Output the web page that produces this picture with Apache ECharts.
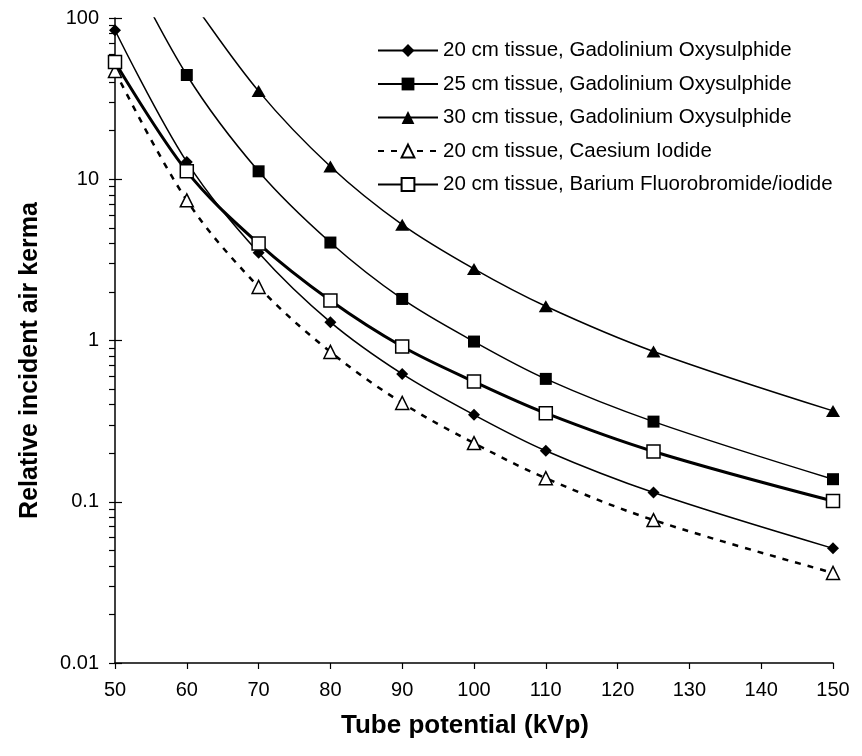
<!DOCTYPE html>
<html>
<head>
<meta charset="utf-8">
<script src="https://cdn.jsdelivr.net/npm/echarts@6/dist/echarts.min.js"></script>
<style>html,body{margin:0;padding:0;background:#fff}#c{width:862px;height:756px}</style>
</head>
<body>
<div id="c"></div>
<script>
var kvp = [50, 60, 70, 80, 90, 100, 110, 125, 150];
var gd20 = [84, 12.8, 3.5, 1.3, 0.62, 0.346, 0.207, 0.114, 0.0514];
var gd25 = [300, 44.3, 11.2, 4.05, 1.81, 0.985, 0.578, 0.314, 0.138];
var gd30 = [550, 140, 35.2, 12.0, 5.23, 2.78, 1.63, 0.855, 0.366];
var csi20 = [46.9, 7.4, 2.15, 0.85, 0.41, 0.231, 0.140, 0.077, 0.0362];
var bafbi20 = [53.3, 11.2, 3.99, 1.77, 0.918, 0.556, 0.354, 0.205, 0.101];

var seriesNames = [
  '20 cm tissue, Gadolinium Oxysulphide',
  '25 cm tissue, Gadolinium Oxysulphide',
  '30 cm tissue, Gadolinium Oxysulphide',
  '20 cm tissue, Caesium Iodide',
  '20 cm tissue, Barium Fluorobromide/iodide'
];
var xTickLabels = [50, 60, 70, 80, 90, 100, 110, 120, 130, 140, 150];
var yMajorTicks = [0.01, 0.1, 1, 10, 100];
var yAllTicks = [0.01, 0.02, 0.03, 0.04, 0.05, 0.06, 0.07, 0.08, 0.09,
  0.1, 0.2, 0.3, 0.4, 0.5, 0.6, 0.7, 0.8, 0.9,
  1, 2, 3, 4, 5, 6, 7, 8, 9,
  10, 20, 30, 40, 50, 60, 70, 80, 90, 100];

function pairs(ys) { return kvp.map(function (x, i) { return [x, ys[i]]; }); }

var FONT = '"Liberation Sans", Arial, sans-serif';

var chart = echarts.init(document.getElementById('c'));
chart.setOption({
  animation: false,
  backgroundColor: '#fff',
  grid: { left: 115, right: 29, top: 18, bottom: 93, containLabel: false },
  legend: {
    orient: 'vertical',
    left: 377, top: 40, padding: 0,
    itemWidth: 60, itemHeight: 16, itemGap: 12.5,
    textStyle: { fontFamily: FONT, fontSize: 20.5, color: '#000', lineHeight: 20 },
    data: seriesNames
  },
  xAxis: {
    type: 'value', min: 50, max: 150, interval: 10,
    axisLine: { lineStyle: { color: '#000', width: 1.5 } },
    axisTick: { show: true, inside: false, length: 6, lineStyle: { color: '#000', width: 1.2 }, customValues: xTickLabels },
    axisLabel: { fontFamily: FONT, fontSize: 20, color: '#000', margin: 17, customValues: xTickLabels },
    splitLine: { show: false },
    name: 'Tube potential (kVp)', nameLocation: 'middle', nameGap: 50,
    nameTextStyle: { fontFamily: FONT, fontSize: 26, fontWeight: 'bold', color: '#000', padding: [0, 18, 0, 0] }
  },
  yAxis: [{
    type: 'log', logBase: 10, min: 0.01, max: 100, interval: 1,
    axisLine: { show: true, lineStyle: { color: '#000', width: 1.5 } },
    axisTick: { show: true, inside: false, length: 6, lineStyle: { color: '#000', width: 1.2 }, customValues: yAllTicks },
    axisLabel: { fontFamily: FONT, fontSize: 20, color: '#000', margin: 16, customValues: yMajorTicks,
      formatter: function (v) { return String(v); } },
    splitLine: { show: false },
    name: 'Relative incident air kerma', nameLocation: 'middle', nameGap: 72, nameRotate: 90,
    nameTextStyle: { fontFamily: FONT, fontSize: 25, fontWeight: 'bold', color: '#000', padding: [0, 40, 0, 0] }
  }, {
    type: 'log', logBase: 10, min: 0.01, max: 100, interval: 1, position: 'left',
    axisLine: { show: false },
    axisTick: { show: true, inside: true, length: 7, lineStyle: { color: '#000', width: 1.2 }, customValues: yMajorTicks },
    axisLabel: { show: false },
    splitLine: { show: false }
  }],
  series: [
    { name: seriesNames[0], type: 'line', data: pairs(gd20), smooth: 0.35,
      symbol: 'diamond', symbolSize: 12,
      lineStyle: { color: '#000', width: 1.5 }, itemStyle: { color: '#000', borderWidth: 0 } },
    { name: seriesNames[1], type: 'line', data: pairs(gd25), smooth: 0.35,
      symbol: 'rect', symbolSize: 12,
      lineStyle: { color: '#000', width: 1.5 }, itemStyle: { color: '#000', borderWidth: 0 } },
    { name: seriesNames[2], type: 'line', data: pairs(gd30), smooth: 0.35,
      symbol: 'triangle', symbolSize: [14, 12],
      lineStyle: { color: '#000', width: 1.5 }, itemStyle: { color: '#000', borderWidth: 0 } },
    { name: seriesNames[3], type: 'line', data: pairs(csi20), smooth: 0.35,
      symbol: 'triangle', symbolSize: [13, 13],
      lineStyle: { color: '#000', width: 2.5, type: [6, 7] },
      itemStyle: { color: '#fff', borderColor: '#000', borderWidth: 1.5 } },
    { name: seriesNames[4], type: 'line', data: pairs(bafbi20), smooth: 0.35,
      symbol: 'rect', symbolSize: 13,
      lineStyle: { color: '#000', width: 3 },
      itemStyle: { color: '#fff', borderColor: '#000', borderWidth: 1.5 } }
  ]
});
</script>
</body>
</html>
